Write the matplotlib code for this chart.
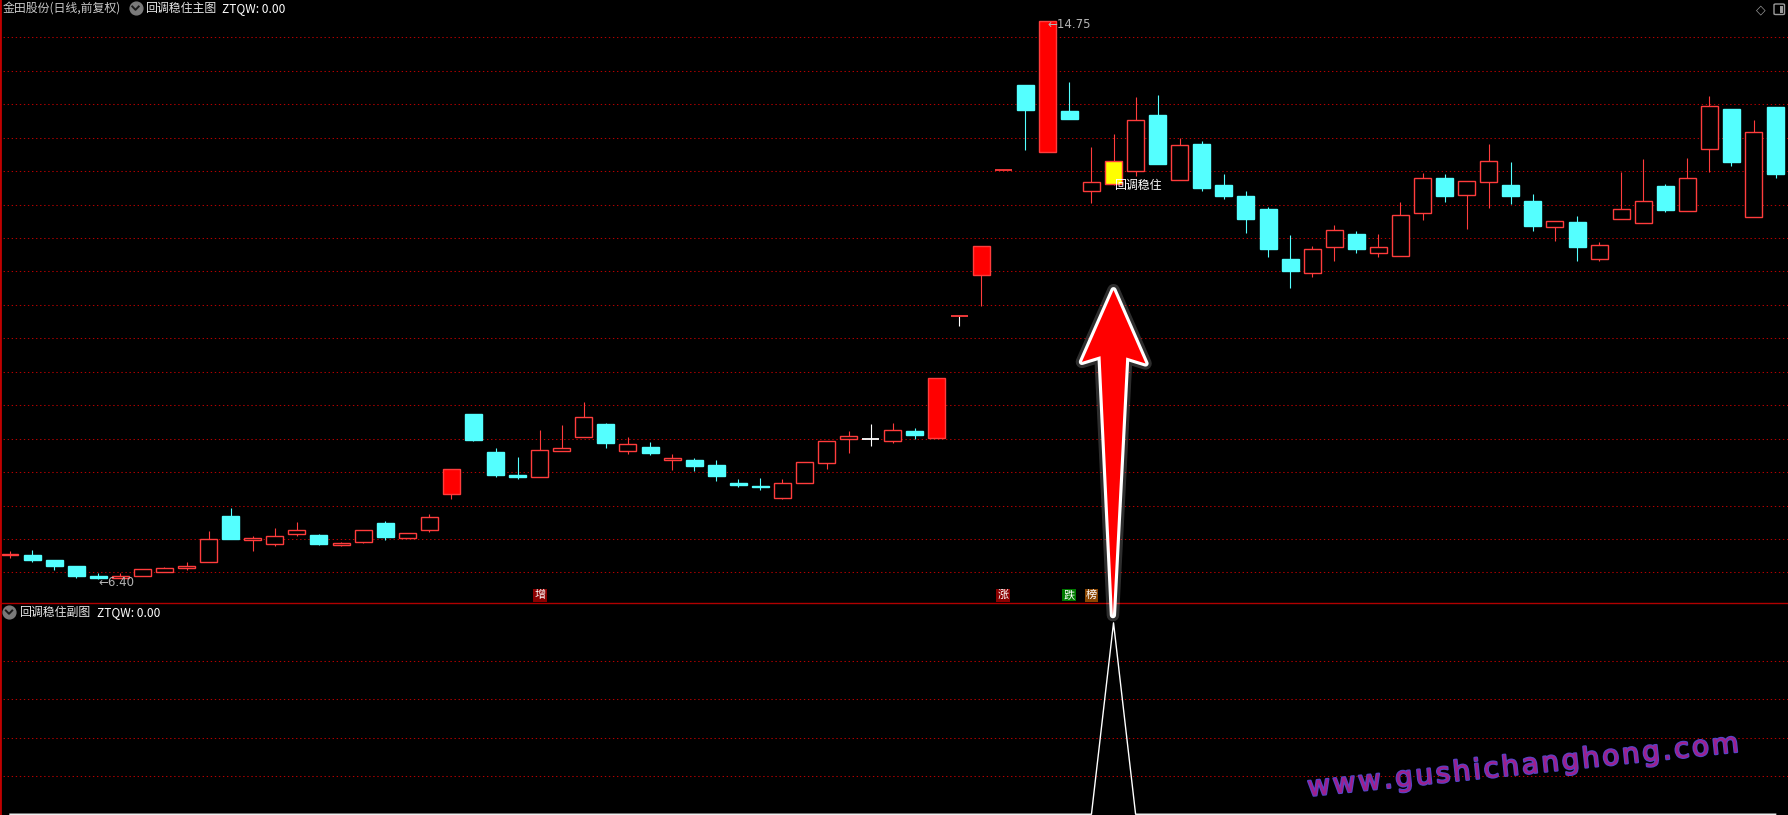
import matplotlib
matplotlib.use("Agg")
import matplotlib.pyplot as plt
import matplotlib.patheffects as pe
import matplotlib.transforms as mtransforms
from matplotlib.patches import Polygon, Rectangle, FancyBboxPatch
from matplotlib.lines import Line2D

# daily OHLC
opens = [6.76, 6.76, 6.69, 6.60, 6.45, 6.42, 6.44, 6.51, 6.56, 6.66,
         7.35, 6.99, 6.92, 7.08, 7.06, 6.91, 6.95, 7.24, 7.01, 7.13,
         7.68, 8.87, 8.30, 7.96, 7.92, 8.32, 8.52, 8.72, 8.31, 8.38,
         8.18, 8.18, 8.11, 7.84, 7.79, 7.62, 7.84, 8.14, 8.49, 8.49,
         8.47, 8.62, 8.51, 10.34, 10.94, 12.52, 13.79, 12.79, 13.40, 12.21,
         12.30, 12.50, 13.34, 12.36, 12.91, 12.29, 12.13, 11.93, 11.19, 10.97,
         11.36, 11.56, 11.27, 11.23, 11.88, 12.39, 12.14, 12.33, 12.29, 12.05,
         11.67, 11.74, 11.19, 11.79, 11.72, 12.28, 11.90, 12.83, 13.43, 11.81,
         13.46]
highs = [6.82, 6.84, 6.69, 6.60, 6.49, 6.49, 6.55, 6.58, 6.66, 7.12,
         7.46, 7.04, 7.17, 7.25, 7.08, 6.96, 7.13, 7.27, 7.09, 7.38,
         8.04, 8.87, 8.36, 8.22, 8.63, 8.71, 9.05, 8.74, 8.53, 8.45,
         8.27, 8.21, 8.18, 7.90, 7.91, 7.89, 8.15, 8.46, 8.61, 8.72,
         8.74, 8.66, 9.40, 10.34, 11.38, 12.52, 13.79, 14.75, 13.83, 12.86,
         13.05, 13.61, 13.64, 13.00, 12.95, 12.46, 12.21, 11.97, 11.55, 11.38,
         11.69, 11.60, 11.56, 12.04, 12.47, 12.46, 12.35, 12.91, 12.64, 12.16,
         11.76, 11.83, 11.44, 12.49, 12.68, 12.31, 12.69, 13.62, 13.43, 13.26,
         13.46]
lows = [6.72, 6.66, 6.53, 6.42, 6.40, 6.41, 6.44, 6.51, 6.53, 6.66,
        7.00, 6.82, 6.90, 7.05, 6.91, 6.90, 6.94, 6.99, 7.01, 7.10,
        7.60, 8.46, 7.92, 7.90, 7.92, 8.31, 8.52, 8.36, 8.27, 8.26,
        8.03, 8.01, 7.87, 7.78, 7.73, 7.60, 7.83, 8.05, 8.28, 8.39,
        8.43, 8.49, 8.51, 10.18, 10.49, 12.52, 12.81, 12.79, 13.28, 12.03,
        12.29, 12.43, 12.61, 12.36, 12.21, 12.08, 11.58, 11.22, 10.76, 10.92,
        11.16, 11.28, 11.22, 11.23, 11.77, 12.04, 11.64, 11.95, 12.01, 11.61,
        11.45, 11.15, 11.16, 11.79, 11.72, 11.89, 11.90, 12.49, 12.57, 11.81,
        12.40]
closes = [6.78, 6.69, 6.60, 6.45, 6.41, 6.45, 6.55, 6.56, 6.60, 7.00,
          7.00, 7.02, 7.05, 7.13, 6.93, 6.94, 7.13, 7.03, 7.09, 7.33,
          8.04, 8.48, 7.96, 7.93, 8.33, 8.36, 8.82, 8.43, 8.42, 8.28,
          8.21, 8.09, 7.94, 7.81, 7.78, 7.83, 8.15, 8.46, 8.54, 8.49,
          8.63, 8.55, 9.40, 10.34, 11.38, 12.52, 13.42, 14.75, 13.28, 12.33,
          12.65, 13.27, 12.61, 12.89, 12.25, 12.13, 11.79, 11.34, 11.00, 11.33,
          11.62, 11.34, 11.36, 11.84, 12.39, 12.13, 12.35, 12.65, 12.13, 11.68,
          11.76, 11.36, 11.39, 11.94, 12.06, 11.92, 12.39, 13.48, 12.63, 13.09,
          12.46]

# sub-chart indicator line (ZTQW)
ztqw = [0, 0, 0, 0, 0, 0, 0, 0, 0, 0,
        0, 0, 0, 0, 0, 0, 0, 0, 0, 0,
        0, 0, 0, 0, 0, 0, 0, 0, 0, 0,
        0, 0, 0, 0, 0, 0, 0, 0, 0, 0,
        0, 0, 0, 0, 0, 0, 0, 0, 0, 0,
        5, 0, 0, 0, 0, 0, 0, 0, 0, 0,
        0, 0, 0, 0, 0, 0, 0, 0, 0, 0,
        0, 0, 0, 0, 0, 0, 0, 0, 0, 0,
        0]

signal_idx = 50
signal_text = "回调稳住"
tag_chars = ["增", "涨", "跌", "榜"]
tag_idx = [24, 45, 48, 49]
tag_colors = ["#8a0000", "#8a0000", "#007a00", "#8a4500"]
grid_main = [6.5, 7.0, 7.5, 8.0, 8.5, 9.0, 9.5, 10.0, 10.5, 11.0,
             11.5, 12.0, 12.5, 13.0, 13.5, 14.0, 14.5]
grid_sub = [1, 2, 3, 4]

RED = "#ff3c3c"
CYAN = "#54ffff"
GRID = "#b40000"
CJK = ["Noto Sans CJK SC", "DejaVu Sans"]
W, H = 1788, 815

fig = plt.figure(figsize=(W / 100, H / 100), dpi=100, facecolor="black")
split = 211.7 / H
ax = fig.add_axes([0, split, 1, 1 - split])
ax2 = fig.add_axes([0, 0, 1, split])
ax.set_zorder(3)

n = len(closes)
for a in (ax, ax2):
    a.set_facecolor("black")
    a.set_xlim(-0.453, 80.56)
    a.set_xticks([])
    a.set_yticks([])
    for s in a.spines.values():
        s.set_visible(False)
    a.spines["left"].set_visible(True)
    a.spines["left"].set_color("#c00000")
    a.spines["left"].set_linewidth(2)
ax.spines["bottom"].set_visible(True)
ax.spines["bottom"].set_color("#b00000")
ax.spines["bottom"].set_linewidth(1.0)
ax.set_ylim(6.039, 15.058)
ax2.set_ylim(-0.02, 5.51)

ax.hlines(grid_main, -1, n + 1, colors=GRID, lw=0.75, linestyles=(0, (1.3, 2.6)), zorder=0)
ax2.hlines(grid_sub, -1, n + 1, colors=GRID, lw=0.75, linestyles=(0, (1.3, 2.6)), zorder=0)

# candles
bw = 0.77
for i in range(n):
    o, h, l, c = opens[i], highs[i], lows[i], closes[i]
    prev = closes[i - 1] if i > 0 else o
    if o == c:
        col = RED if c > prev else "white"
        if h > l:
            ax.vlines(i, l, h, colors="white", lw=0.8, zorder=1)
        ax.hlines(c, i - bw / 2, i + bw / 2, colors=col, lw=1.3, zorder=2)
        continue
    top, bot = max(o, c), min(o, c)
    if c > o:
        ec = RED
        limit = c >= prev * 1.095
        fc = "#ff0000" if limit else "black"
        if i == signal_idx:
            fc = "#ffff00"
        wc = RED
    else:
        ec = fc = wc = CYAN
    if h > top:
        ax.vlines(i, top, h, colors=wc, lw=0.8, zorder=1)
    if l < bot:
        ax.vlines(i, l, bot, colors=wc, lw=0.8, zorder=1)
    ax.add_patch(Rectangle((i - bw / 2, bot), bw, max(top - bot, 0.012),
                           facecolor=fc, edgecolor=ec, lw=1.0, zorder=2))

# high / low markers
hi = highs.index(max(highs))
lo = lows.index(min(lows))
ax.annotate("←%.2f" % highs[hi], xy=(hi, highs[hi]), xytext=(0, -4),
            textcoords="offset pixels", ha="left", va="center",
            fontsize=8.5, color="#b4b4b4", zorder=5)
ax.annotate("←%.2f" % lows[lo], xy=(lo, lows[lo]), xytext=(0, -3),
            textcoords="offset pixels", ha="left", va="center",
            fontsize=8.5, color="#b4b4b4", zorder=5)

# signal text
ax.text(signal_idx, lows[signal_idx], signal_text, ha="left", va="center",
        fontsize=8.6, color="white", family=CJK, zorder=6)

# tag boxes along the bottom of the main chart
xt = ax.get_xaxis_transform()
for ch, i, col in zip(tag_chars, tag_idx, tag_colors):
    ax.text(i, 0.0135, ch, transform=xt, ha="center", va="center",
            fontsize=8, color="white", family=CJK, zorder=6,
            bbox=dict(boxstyle="square,pad=0.12", fc=col, ec="none"))

# big red arrow pointing at the signal candle
arrow_px = [(0, 0), (-31.6, 71.7), (-13, 66), (-0.6, 325), (12.7, 67.3), (32, 73.3)]
tip_price = 10.72
tr = mtransforms.Affine2D().scale(1, -1) + \
    mtransforms.ScaledTranslation(signal_idx, tip_price, ax.transData)
arrow = Polygon(arrow_px, closed=True, transform=tr, facecolor="#ff0000",
                edgecolor="none", clip_on=False, zorder=8)
arrow.set_path_effects([pe.Stroke(linewidth=9, foreground="white", alpha=0.18, joinstyle="round"),
                        pe.Stroke(linewidth=4.5, foreground="white", joinstyle="round"),
                        pe.Normal()])
ax.add_patch(arrow)

# sub chart line
ax2.plot(range(n), ztqw, color="white", lw=1.0, zorder=3)


def fx(x):
    return x / W


def fy(y):
    return 1 - y / H


def badge(x, y):
    fig.add_artist(Line2D([fx(x)], [fy(y)], marker="o", ms=9.2, color="#7a7a7a",
                          transform=fig.transFigure, zorder=10))
    fig.add_artist(Line2D([fx(x - 3.2), fx(x), fx(x + 3.2)], [fy(y - 1.5), fy(y + 1.8), fy(y - 1.5)],
                          color="#1a1a1a", lw=1.4, transform=fig.transFigure, zorder=11))


# titles
fig.text(fx(3), fy(8.5), "金田股份(日线,前复权)", ha="left", va="center",
         fontsize=8.6, color="#c8c8c8", family=CJK, zorder=10)
badge(135.5, 8)
fig.text(fx(145), fy(8.5), "回调稳住主图", ha="left", va="center",
         fontsize=8.6, color="#e6e6e6", family=CJK, zorder=10)
fig.text(fx(222), fy(8.5), "ZTQW: 0.00", ha="left", va="center",
         fontsize=8.6, color="white", family=CJK, zorder=10)

badge(9, 612)
fig.text(fx(19), fy(612.5), "回调稳住副图", ha="left", va="center",
         fontsize=8.6, color="#e6e6e6", family=CJK, zorder=10)
fig.text(fx(97), fy(612.5), "ZTQW: 0.00", ha="left", va="center",
         fontsize=8.6, color="white", family=CJK, zorder=10)

# top-right icons
fig.text(fx(1760.5), fy(9.5), "◇", ha="center", va="center", fontsize=9,
         color="#9a9a9a", zorder=10)
fig.add_artist(FancyBboxPatch((fx(1774), fy(14.5)), fx(10.5), 10.5 / H,
                              boxstyle="round,pad=0,rounding_size=0.001",
                              fc="none", ec="#9a9a9a", lw=1.0,
                              transform=fig.transFigure, zorder=10))
fig.add_artist(Rectangle((fx(1779.5), fy(13)), fx(3.5), 7.5 / H, fc="#9a9a9a", ec="none",
                         transform=fig.transFigure, zorder=10))

# watermark
wm = "\u200a".join("www.gushichanghong.com")
fig.text(fx(1523), fy(766), wm, ha="center", va="center", rotation=5.9,
         rotation_mode="anchor", fontsize=20, color="#a01f8c",
         family=["DejaVu Sans"], zorder=20,
         path_effects=[pe.withStroke(linewidth=1.6, foreground="#5545c8")])

fig.savefig("out.png", dpi=100, facecolor="black")
